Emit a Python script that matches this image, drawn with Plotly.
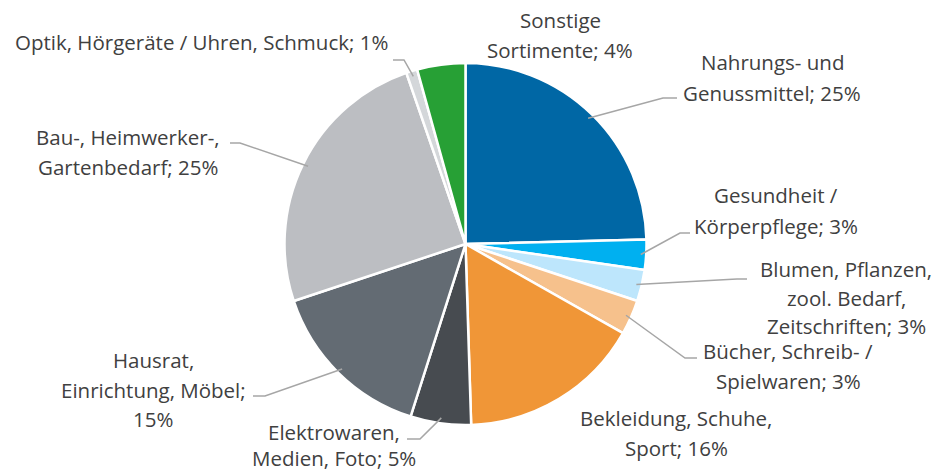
import math
import plotly.graph_objects as go

# ---- data ----
categories = [
    "Nahrungs- und Genussmittel",
    "Gesundheit / Körperpflege",
    "Blumen, Pflanzen, zool. Bedarf, Zeitschriften",
    "Bücher, Schreib- / Spielwaren",
    "Bekleidung, Schuhe, Sport",
    "Elektrowaren, Medien, Foto",
    "Hausrat, Einrichtung, Möbel",
    "Bau-, Heimwerker-, Gartenbedarf",
    "Optik, Hörgeräte / Uhren, Schmuck",
    "Sonstige Sortimente",
]
shares = [24.6, 2.7, 2.8, 3.1, 16.3, 5.4, 15.0, 24.8, 1.0, 4.3]
label_pct = [25, 3, 3, 3, 16, 5, 15, 25, 1, 4]
label_lines = [
    ["Nahrungs- und", "Genussmittel; {p}%"],
    ["Gesundheit /", "Körperpflege; {p}%"],
    ["Blumen, Pflanzen,", "zool. Bedarf,", "Zeitschriften; {p}%"],
    ["Bücher, Schreib- /", "Spielwaren; {p}%"],
    ["Bekleidung, Schuhe,", "Sport; {p}%"],
    ["Elektrowaren,", "Medien, Foto; {p}%"],
    ["Hausrat,", "Einrichtung, Möbel;", "{p}%"],
    ["Bau-, Heimwerker-,", "Gartenbedarf; {p}%"],
    ["Optik, Hörgeräte / Uhren, Schmuck; {p}%"],
    ["Sonstige", "Sortimente; {p}%"],
]
colors = ["#0067A5", "#00B0F0", "#BDE6FC", "#F6C18C", "#F09637",
          "#474B50", "#636B73", "#BCBEC2", "#D4D7DA", "#27A035"]

# ---- layout / styling (pixels) ----
W, H = 936, 472
CX, CY, R = 465.5, 244.0, 181.0
# label anchor: center x, first line y, line step
label_pos = [
    (772, 62, 31), (776, 195, 31), (846, 269, 28.5), (788, 351, 29.5),
    (676, 418, 30), (334, 432, 25.5), (153, 360, 29.5), (128, 137, 30),
    (201, 42, 30), (560, 20, 30),
]
leader_elbows = [
    [(663, 98), (677, 98)],
    [(680, 233), (690, 233)],
    [(737, 279), (747, 279)],
    [(685, 358), (697, 358)],
    None,
    [(420, 439), (407, 439)],
    [(265, 396), (253, 396)],
    [(240, 143), (230, 143)],
    [(404, 60), (393, 60)],
    None,
]

FONT = "Open Sans"
FS = 20.5
TXT = "#404040"

def px(x):
    return x / W

def py(y):
    return 1 - y / H

fig = go.Figure(go.Pie(
    labels=categories,
    values=shares,
    sort=False,
    direction="clockwise",
    rotation=0,
    marker=dict(colors=colors, line=dict(color="white", width=2.5)),
    textinfo="none",
    hoverinfo="label+percent",
    showlegend=False,
    domain=dict(x=[px(CX - R), px(CX + R)], y=[py(CY + R), py(CY - R)]),
))

annotations = []
shapes = []
total = sum(shares)
cum = 0.0
for i, v in enumerate(shares):
    mid = (cum + v / 2) / total * 2 * math.pi
    cum += v
    cx, y0, step = label_pos[i]
    for j, line in enumerate(label_lines[i]):
        annotations.append(dict(
            x=px(cx), y=py(y0 + j * step), xref="paper", yref="paper",
            text=line.format(p=label_pct[i]), showarrow=False,
            xanchor="center", yanchor="middle", borderpad=0,
            font=dict(family=FONT, size=FS, color=TXT),
        ))
    if leader_elbows[i]:
        sx = CX + R * 0.97 * math.sin(mid)
        sy = CY - R * 0.97 * math.cos(mid)
        pts = [(sx, sy)] + leader_elbows[i]
        path = "M " + " L ".join(f"{px(a)},{py(b)}" for a, b in pts)
        shapes.append(dict(type="path", xref="paper", yref="paper", path=path,
                           line=dict(color="#A6A6A6", width=1.5)))

fig.update_layout(
    width=W, height=H,
    margin=dict(l=0, r=0, t=0, b=0),
    paper_bgcolor="white", plot_bgcolor="white",
    annotations=annotations, shapes=shapes,
)

fig.write_html("out.html", config={"displayModeBar": False},
               post_script="document.body.style.margin='0';document.body.style.overflow='hidden';")
